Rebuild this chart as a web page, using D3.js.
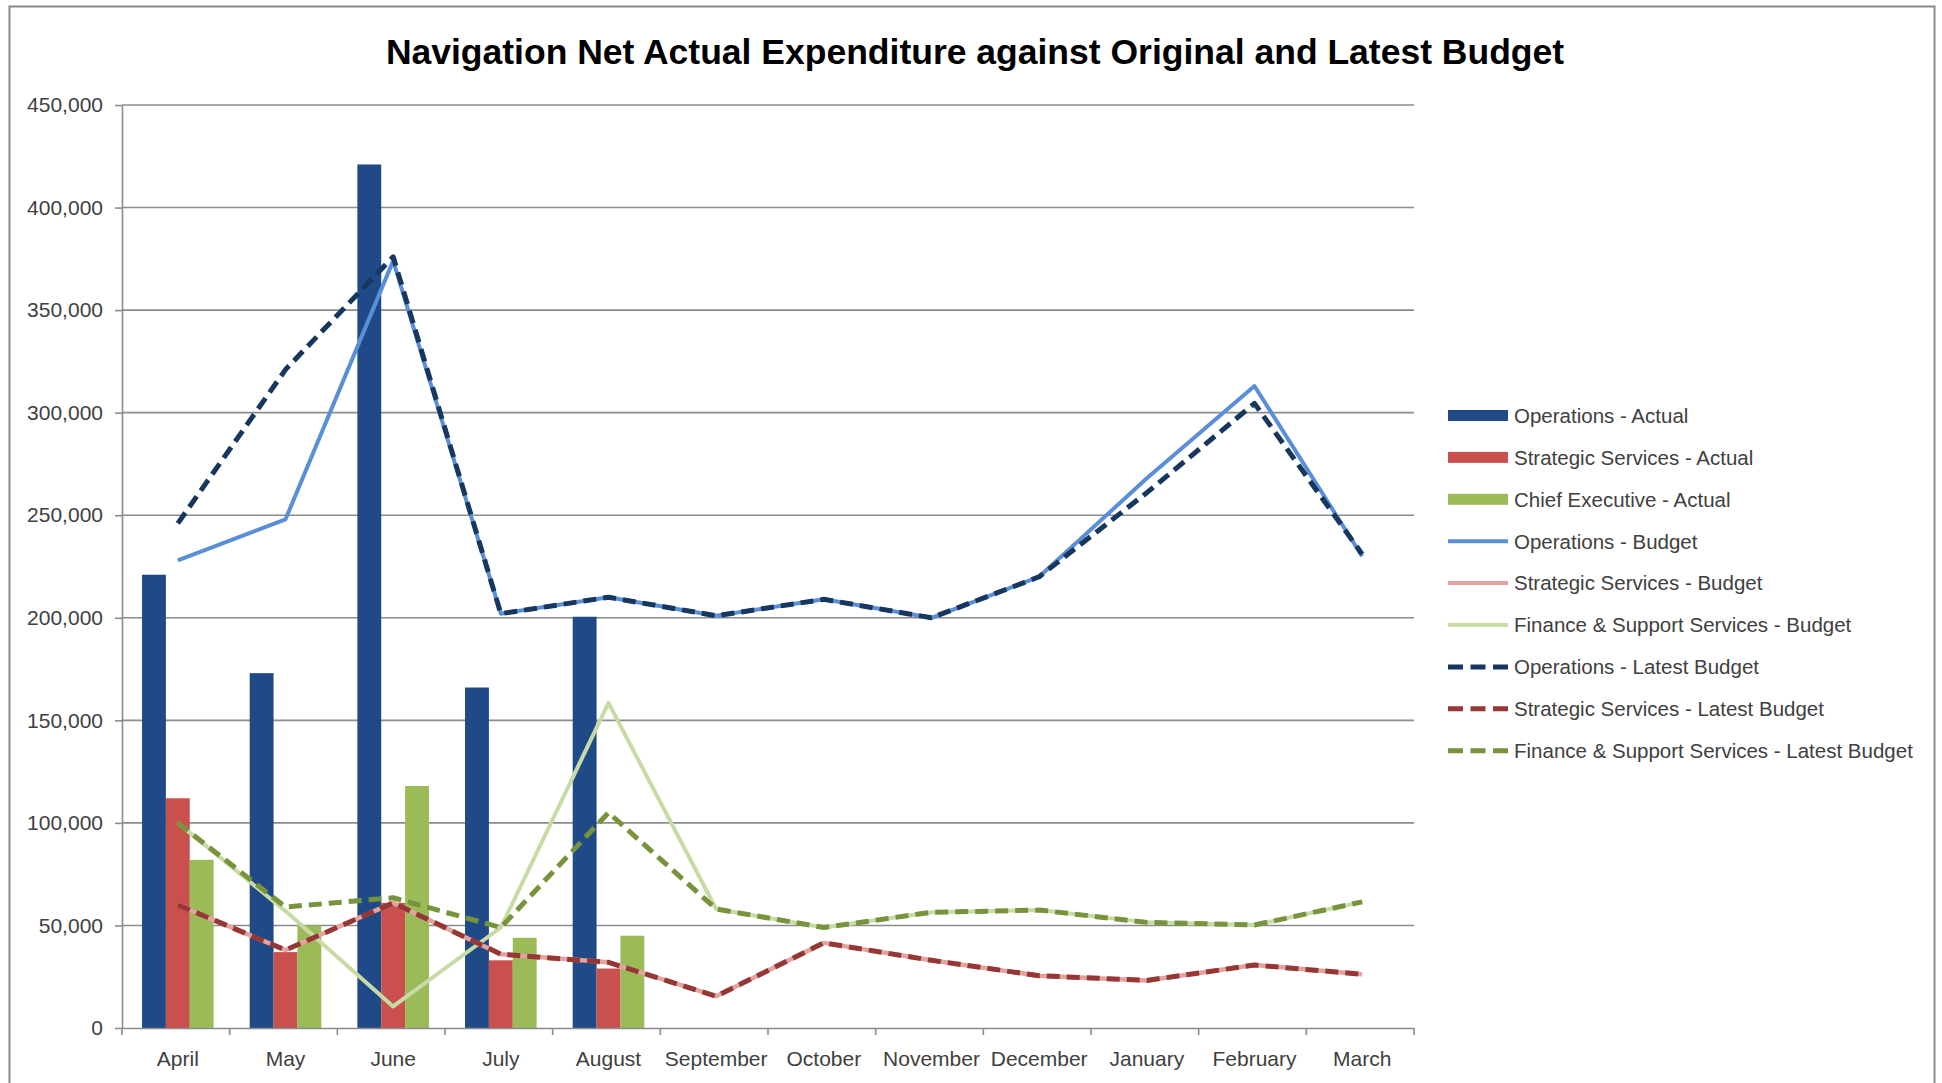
<!DOCTYPE html>
<html>
<head>
<meta charset="utf-8">
<script src="https://cdn.jsdelivr.net/npm/d3@7"></script>
<style>
  body { margin: 0; background: #fff; }
  text { font-family: "Liberation Sans", Arial, sans-serif; }
</style>
</head>
<body>
<svg id="chart"></svg>
<script>
const months = ["April", "May", "June", "July", "August", "September", "October",
  "November", "December", "January", "February", "March"];

// actuals (only April - August reported)
const opsActual = [221000, 173000, 421000, 166000, 200500];
const stratActual = [112000, 37000, 61000, 33000, 29000];
const chiefActual = [82000, 50000, 118000, 44000, 45000];

// budget lines
const opsBudget = [228000, 248000, 374000, 202000, 210000, 201000, 209000, 200000, 220000, 268000, 313000, 230000];
const stratBudget = [60000, 38000, 61000, 36000, 32000, 15500, 41500, 33000, 25500, 23200, 30700, 26200];
const finBudget = [100000, 57000, 10500, 49000, 158500, 58000, 49000, 56400, 57500, 51500, 50200, 61500];
const opsLatest = [246000, 321000, 376000, 202000, 210000, 201000, 209000, 200000, 220000, 261000, 304500, 231000];
const stratLatest = [60000, 38000, 61000, 36000, 32000, 15500, 41500, 33000, 25500, 23200, 30700, 26200];
const finLatest = [100000, 59000, 63500, 49000, 105000, 58000, 49000, 56400, 57500, 51500, 50200, 61500];

const yTicks = [0, 50000, 100000, 150000, 200000, 250000, 300000, 350000, 400000, 450000];

const barSeries = [
  {name: "Operations - Actual", values: opsActual, color: "#1F4A87"},
  {name: "Strategic Services - Actual", values: stratActual, color: "#C9504D"},
  {name: "Chief Executive - Actual", values: chiefActual, color: "#9BBB59"}
];
const lineSeries = [
  {name: "Operations - Budget", values: opsBudget, color: "#5A8FD8", dash: null, w: 4},
  {name: "Strategic Services - Budget", values: stratBudget, color: "#E3A3A1", dash: null, w: 4.5},
  {name: "Finance & Support Services - Budget", values: finBudget, color: "#C8DBA6", dash: null, w: 4},
  {name: "Operations - Latest Budget", values: opsLatest, color: "#17375E", dash: "13,7", w: 5},
  {name: "Strategic Services - Latest Budget", values: stratLatest, color: "#953735", dash: "13,7", w: 5},
  {name: "Finance & Support Services - Latest Budget", values: finLatest, color: "#77933C", dash: "13,7", w: 5}
];

const width = 1942, height = 1083;
const plot = {left: 122, right: 1414, top: 105, bottom: 1028};

const svg = d3.select("#chart")
  .attr("width", width)
  .attr("height", height);

// outer chart border
svg.append("rect")
  .attr("x", 9.5).attr("y", 6.5)
  .attr("width", 1925).attr("height", 1100)
  .attr("fill", "#fff")
  .attr("stroke", "#8a8a8a")
  .attr("stroke-width", 2);

svg.append("text")
  .attr("x", 975).attr("y", 64)
  .attr("text-anchor", "middle")
  .style("font-size", "35.5px")
  .style("font-weight", "bold")
  .attr("fill", "#000")
  .text("Navigation Net Actual Expenditure against Original and Latest Budget");

const x = d3.scaleBand()
  .domain(months)
  .range([plot.left, plot.right])
  .padding(0);

const y = d3.scaleLinear()
  .domain([0, 450000])
  .range([plot.bottom, plot.top]);

// gridlines
svg.append("g")
  .selectAll("line")
  .data(yTicks.slice(1))
  .join("line")
  .attr("x1", plot.left).attr("x2", plot.right)
  .attr("y1", d => y(d)).attr("y2", d => y(d))
  .attr("stroke", "#8c8c8c")
  .attr("stroke-width", 1.6);

// y axis
const yAxis = svg.append("g")
  .attr("transform", `translate(${plot.left},0)`)
  .call(d3.axisLeft(y).tickValues(yTicks).tickFormat(d3.format(",")).tickSizeInner(7).tickSizeOuter(0).tickPadding(12));
yAxis.select(".domain").attr("stroke", "#8c8c8c").attr("stroke-width", 1.6);
yAxis.selectAll(".tick line").attr("stroke", "#8c8c8c").attr("stroke-width", 1.6);
yAxis.selectAll("text").style("font-size", "21px").attr("fill", "#404040");

// bars
const gap = x.bandwidth() * 0.335;
const xSub = d3.scaleBand()
  .domain(barSeries.map(s => s.name))
  .range([gap / 2 + 2, x.bandwidth() - gap / 2 + 2])
  .padding(0);

barSeries.forEach(s => {
  svg.append("g")
    .selectAll("rect")
    .data(s.values)
    .join("rect")
    .attr("x", (d, i) => x(months[i]) + xSub(s.name))
    .attr("y", d => y(d))
    .attr("width", xSub.bandwidth())
    .attr("height", d => y(0) - y(d))
    .attr("fill", s.color);
});

// x axis
const xAxis = svg.append("g")
  .attr("transform", `translate(0,${plot.bottom})`)
  .call(d3.axisBottom(x).tickSize(0).tickPadding(23));
xAxis.select(".domain").attr("stroke", "#8c8c8c").attr("stroke-width", 1.6);
xAxis.selectAll("text").style("font-size", "21px").attr("fill", "#404040");
xAxis.selectAll(".tick text").attr("dx", 2);
svg.append("g")
  .selectAll("line")
  .data(months.concat(["end"]))
  .join("line")
  .attr("x1", (d, i) => plot.left + i * x.step())
  .attr("x2", (d, i) => plot.left + i * x.step())
  .attr("y1", plot.bottom).attr("y2", plot.bottom + 7)
  .attr("stroke", "#8c8c8c")
  .attr("stroke-width", 1.6);

// lines
const line = d3.line()
  .x((d, i) => x(months[i]) + x.bandwidth() / 2 + 2)
  .y(d => y(d));

lineSeries.forEach(s => {
  svg.append("path")
    .datum(s.values)
    .attr("d", line)
    .attr("fill", "none")
    .attr("stroke", s.color)
    .attr("stroke-width", s.w)
    .attr("stroke-linejoin", "round")
    .attr("stroke-dasharray", s.dash);
});

// legend
const legend = svg.append("g").attr("transform", "translate(1448,415.5)");
const items = barSeries.map(s => ({...s, type: "bar"})).concat(lineSeries.map(s => ({...s, type: "line"})));
const row = legend.selectAll("g")
  .data(items)
  .join("g")
  .attr("transform", (d, i) => `translate(0,${i * 41.9})`);

row.filter(d => d.type === "bar")
  .append("rect")
  .attr("x", 0).attr("y", -5.5)
  .attr("width", 60).attr("height", 11)
  .attr("fill", d => d.color);

row.filter(d => d.type === "line")
  .append("line")
  .attr("x1", 0).attr("x2", 60)
  .attr("y1", 0).attr("y2", 0)
  .attr("stroke", d => d.color)
  .attr("stroke-width", d => d.dash ? 5 : 4)
  .attr("stroke-dasharray", d => d.dash ? "15,7.5" : null);

row.append("text")
  .attr("x", 66).attr("y", 0)
  .attr("dy", "0.36em")
  .style("font-size", "20.5px")
  .attr("fill", "#404040")
  .text(d => d.name);
</script>
</body>
</html>
